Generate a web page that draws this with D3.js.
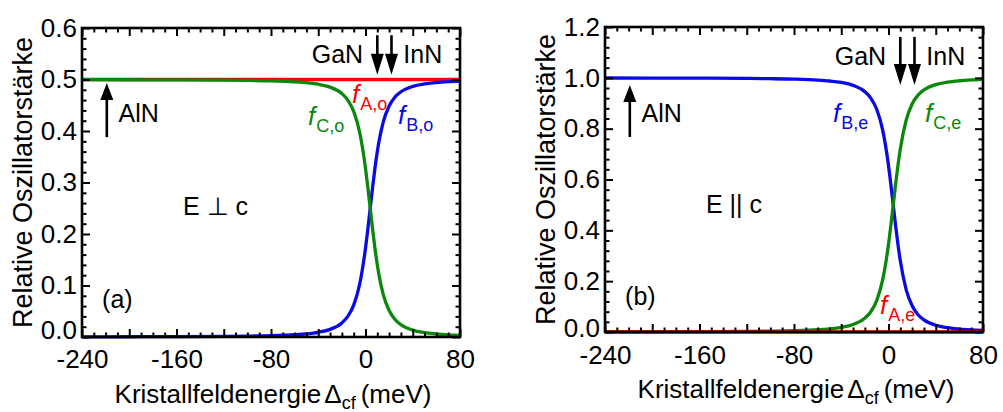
<!DOCTYPE html>
<html>
<head>
<meta charset="utf-8">
<script src="https://cdn.jsdelivr.net/npm/d3@7"></script>
<style>
  html, body { margin: 0; padding: 0; background: #fff; }
  svg { display: block; }
  text { font-family: "Liberation Sans", Arial, Helvetica, sans-serif; }
</style>
</head>
<body>
<svg id="chart" width="1003" height="412"></svg>
<script>
// ---------------- data ----------------
const deltaCf = [-240, -200, -160, -120, -100, -80, -60, -50, -40, -30, -20, -15, -10, -5, 0, 2, 4, 6, 8, 10, 15, 20, 25, 30, 40, 50, 60, 70, 80];

// (a) E ⊥ c
const fAo = [0.5, 0.5, 0.5, 0.5, 0.5, 0.5, 0.5, 0.5, 0.5, 0.5, 0.5, 0.5, 0.5, 0.5, 0.5, 0.5, 0.5, 0.5, 0.5, 0.5, 0.5, 0.5, 0.5, 0.5, 0.5, 0.5, 0.5, 0.5, 0.5];
const fBo = [0.0003, 0.0005, 0.0007, 0.0012, 0.0017, 0.0026, 0.0045, 0.0062, 0.0092, 0.0148, 0.0273, 0.0399, 0.0618, 0.1020, 0.1724, 0.2097, 0.25, 0.2903, 0.3276, 0.3600, 0.4171, 0.4485, 0.4660, 0.4762, 0.4867, 0.4916, 0.4942, 0.4958, 0.4968];
const fCo = [0.4997, 0.4995, 0.4993, 0.4988, 0.4983, 0.4974, 0.4955, 0.4938, 0.4908, 0.4852, 0.4727, 0.4601, 0.4382, 0.3980, 0.3276, 0.2903, 0.25, 0.2097, 0.1724, 0.1400, 0.0829, 0.0515, 0.0340, 0.0238, 0.0133, 0.0084, 0.0058, 0.0042, 0.0032];

// (b) E || c
const fAe = [0, 0, 0, 0, 0, 0, 0, 0, 0, 0, 0, 0, 0, 0, 0, 0, 0, 0, 0, 0, 0, 0, 0, 0, 0, 0, 0, 0, 0];
const fBe = [0.9994, 0.9991, 0.9986, 0.9976, 0.9966, 0.9948, 0.9911, 0.9876, 0.9817, 0.9704, 0.9454, 0.9203, 0.8763, 0.7961, 0.6552, 0.5806, 0.5, 0.4194, 0.3448, 0.2800, 0.1659, 0.1030, 0.0681, 0.0477, 0.0266, 0.0168, 0.0115, 0.0084, 0.0064];
const fCe = [0.0006, 0.0009, 0.0014, 0.0024, 0.0034, 0.0052, 0.0089, 0.0124, 0.0183, 0.0296, 0.0546, 0.0797, 0.1237, 0.2039, 0.3448, 0.4194, 0.5, 0.5806, 0.6552, 0.7200, 0.8341, 0.8970, 0.9319, 0.9523, 0.9734, 0.9832, 0.9885, 0.9916, 0.9936];

const xTickLabels = [-240, -160, -80, 0, 80];
const xMajorTicks = [-240, -200, -160, -120, -80, -40, 0, 40, 80];
const yTicksA = [0, 0.1, 0.2, 0.3, 0.4, 0.5, 0.6];
const yTicksB = [0, 0.2, 0.4, 0.6, 0.8, 1.0, 1.2];
const materials = { AlN: -219, GaN: 10, InN: 22 };

// ---------------- drawing ----------------
const svg = d3.select("#chart");
const RED = "#ff0000", GREEN = "#0b870b", BLUE = "#0a0ae6";

function drawPanel(cfg) {
  const g = svg.append("g");
  const x = d3.scaleLinear().domain([-240, 80]).range([cfg.left, cfg.right]);
  const y = d3.scaleLinear().domain([0, cfg.ymax]).range([cfg.bottom, cfg.top]);

  const line = d3.line().x((d, i) => x(deltaCf[i])).y(d => y(d)).curve(d3.curveMonotoneX);

  cfg.series.forEach(s => {
    g.append("path").attr("d", line(s.values))
      .attr("fill", "none").attr("stroke", s.color)
      .attr("stroke-width", 3.3).attr("stroke-linejoin", "round");
  });

  const minorX = d3.range(-240, 81, 10).filter(v => !xMajorTicks.includes(v));
  const yMinor = d3.range(0, cfg.ymax + 1e-9, cfg.yMinorStep).map(v => +v.toFixed(3))
    .filter(v => !cfg.yTicks.some(t => Math.abs(t - v) < 1e-6));

  const fmtX = v => xTickLabels.includes(v) ? String(v) : "";
  const styleAxis = sel => {
    sel.select(".domain").remove();
    sel.selectAll("line").attr("stroke", "#000").attr("stroke-width", 2);
    sel.attr("font-size", 26).attr("font-family", "Liberation Sans, Arial, sans-serif");
    sel.selectAll("text").attr("fill", "#000");
  };

  // bottom
  g.append("g").attr("transform", `translate(0,${cfg.bottom})`)
    .call(d3.axisBottom(x).tickValues(xMajorTicks).tickSize(-8).tickPadding(cfg.xPad).tickFormat(fmtX)).call(styleAxis);
  g.append("g").attr("transform", `translate(0,${cfg.bottom})`)
    .call(d3.axisBottom(x).tickValues(minorX).tickSize(-4.5).tickFormat("")).call(styleAxis);
  // top
  g.append("g").attr("transform", `translate(0,${cfg.top})`)
    .call(d3.axisTop(x).tickValues(xMajorTicks).tickSize(-8).tickFormat("")).call(styleAxis);
  g.append("g").attr("transform", `translate(0,${cfg.top})`)
    .call(d3.axisTop(x).tickValues(minorX).tickSize(-4.5).tickFormat("")).call(styleAxis);
  // left
  const yAx = g.append("g").attr("transform", `translate(${cfg.left},0)`)
    .call(d3.axisLeft(y).tickValues(cfg.yTicks).tickSize(-8).tickPadding(5).tickFormat(d3.format(".1f"))).call(styleAxis);
  // lift the "0.0" label a little, as in the reference
  yAx.selectAll(".tick").filter(d => d === 0).select("text").attr("y", -cfg.zeroLift);
  g.append("g").attr("transform", `translate(${cfg.left},0)`)
    .call(d3.axisLeft(y).tickValues(yMinor).tickSize(-4.5).tickFormat("")).call(styleAxis);
  // right
  g.append("g").attr("transform", `translate(${cfg.right},0)`)
    .call(d3.axisRight(y).tickValues(cfg.yTicks).tickSize(-8).tickFormat("")).call(styleAxis);
  g.append("g").attr("transform", `translate(${cfg.right},0)`)
    .call(d3.axisRight(y).tickValues(yMinor).tickSize(-4.5).tickFormat("")).call(styleAxis);

  // frame
  g.append("rect").attr("x", cfg.left).attr("y", cfg.top)
    .attr("width", cfg.right - cfg.left).attr("height", cfg.bottom - cfg.top)
    .attr("fill", "none").attr("stroke", "#000").attr("stroke-width", 2.6);

  // axis titles
  const cx = (cfg.left + cfg.right) / 2;
  const xt = g.append("text").attr("x", cx + 2).attr("y", cfg.bottom + 66)
    .attr("text-anchor", "middle").attr("font-size", 26).attr("fill", "#000");
  xt.append("tspan").text("Kristallfeldenergie");
  xt.append("tspan").attr("dx", 3).text("Δ");
  xt.append("tspan").attr("dy", 6).attr("font-size", 18).text("cf");
  xt.append("tspan").attr("dy", -6).attr("dx", 5).text("(meV)");

  g.append("text")
    .attr("transform", `translate(${cfg.left - 50},${(cfg.top + cfg.bottom) / 2}) rotate(-90)`)
    .attr("text-anchor", "middle").attr("font-size", 27).attr("fill", "#000")
    .text("Relative Oszillatorstärke");

  // arrows
  function arrow(xv, yFrom, yTo, headLen) {
    const px = x(xv), p0 = y(yFrom), p1 = y(yTo);
    const dir = Math.sign(p1 - p0);
    g.append("line").attr("x1", px).attr("x2", px).attr("y1", p0).attr("y2", p1 - dir * headLen * 0.7)
      .attr("stroke", "#000").attr("stroke-width", 2.6);
    g.append("path")
      .attr("d", `M${px},${p1} L${px - 6.5},${p1 - dir * headLen} L${px + 6.5},${p1 - dir * headLen} Z`)
      .attr("fill", "#000");
  }
  arrow(materials.GaN, cfg.arrowTop, cfg.arrowTip, 21);
  arrow(materials.InN, cfg.arrowTop, cfg.arrowTip, 21);
  arrow(materials.AlN, cfg.alnBottom, cfg.alnTip, 17);

  const txt = (xv, yv, s, opts = {}) => g.append("text").attr("x", x(xv)).attr("y", y(yv))
    .attr("font-size", opts.size || 25).attr("fill", opts.color || "#000").text(s);

  txt(-45.5, cfg.matY, "GaN");
  txt(32, cfg.matY, "InN");
  txt(-209, cfg.alnY, "AlN");
  txt(-154.5, cfg.polY, cfg.polText);
  txt(-223, cfg.letterY, cfg.letter);

  cfg.fLabels.forEach(l => {
    const t = g.append("text").attr("x", x(l.x)).attr("y", y(l.y)).attr("fill", l.color).attr("font-size", 26);
    t.append("tspan").attr("font-style", "italic").text("f");
    t.append("tspan").attr("dy", 7).attr("dx", 1).attr("font-size", 18).text(l.sub);
  });
}

drawPanel({
  left: 82, right: 460, top: 28, bottom: 337, ymax: 0.6, yMinorStep: 0.02, yTicks: yTicksA,
  xPad: 12.5, zeroLift: 7,
  series: [{ values: fAo, color: RED }, { values: fBo, color: BLUE }, { values: fCo, color: GREEN }],
  arrowTop: 0.586, arrowTip: 0.509, alnBottom: 0.388, alnTip: 0.493,
  matY: 0.532, alnY: 0.417, polY: 0.237, polText: "E ⊥ c", letterY: 0.056, letter: "(a)",
  fLabels: [
    { x: -48.7, y: 0.412, color: GREEN, sub: "C,o" },
    { x: -11.4, y: 0.454, color: RED, sub: "A,o" },
    { x: 27.5, y: 0.414, color: BLUE, sub: "B,o" }
  ]
});

drawPanel({
  left: 605, right: 983, top: 27, bottom: 332, ymax: 1.2, yMinorStep: 0.04, yTicks: yTicksB,
  xPad: 14, zeroLift: 4,
  series: [{ values: fBe, color: BLUE }, { values: fCe, color: GREEN }, { values: fAe, color: RED }],
  arrowTop: 1.161, arrowTip: 0.972, alnBottom: 0.767, alnTip: 0.972,
  matY: 1.05, alnY: 0.826, polY: 0.468, polText: "E || c", letterY: 0.106, letter: "(b)",
  fLabels: [
    { x: -47, y: 0.826, color: BLUE, sub: "B,e" },
    { x: 30.9, y: 0.826, color: GREEN, sub: "C,e" },
    { x: -7.2, y: 0.071, color: RED, sub: "A,e" }
  ]
});
</script>
</body>
</html>
